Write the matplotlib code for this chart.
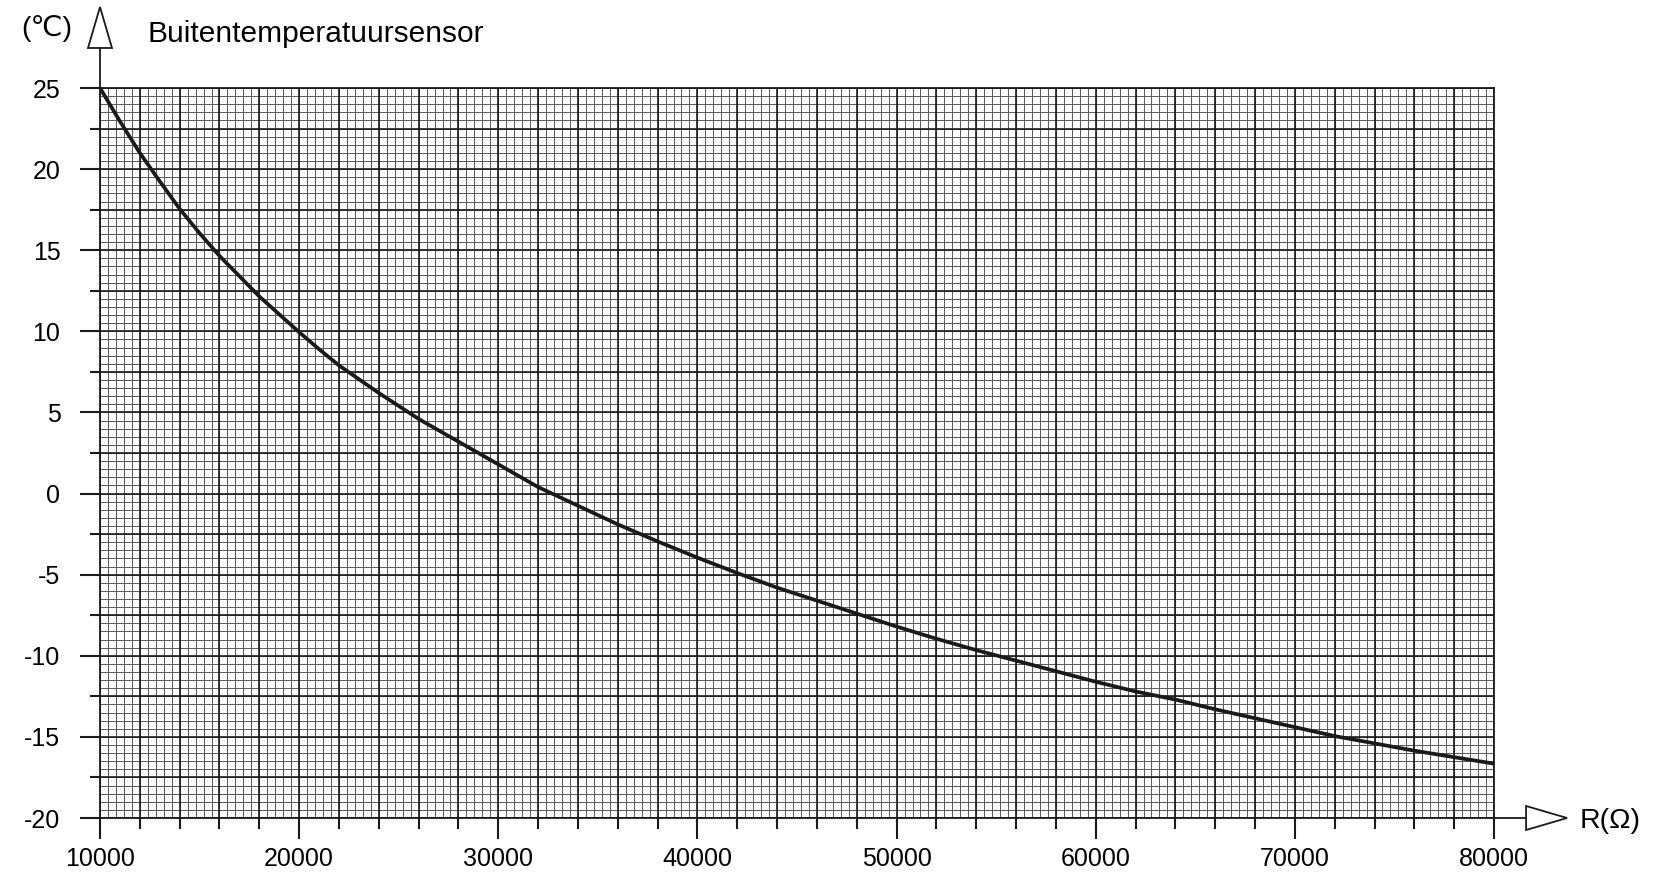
import numpy as np
import matplotlib
matplotlib.use("Agg")
import matplotlib.pyplot as plt
from matplotlib.ticker import MultipleLocator
from matplotlib.patches import Polygon

plt.rcParams['font.family'] = ['Liberation Sans', 'DejaVu Sans']
plt.rcParams['axes.unicode_minus'] = False

# resistance (ohm) vs outdoor temperature (degC)
resistance = [10000, 11000, 12000, 13000, 14000, 15000, 16000, 18000, 20000,
              21000, 22000, 24000, 26000, 28000, 30000, 32000, 34000, 36000,
              38000, 40000, 42000, 44000, 46000, 48000, 50000, 52000, 54000,
              56000, 58000, 60000, 62000, 64000, 66000, 68000, 70000, 72000,
              74000, 76000, 78000, 80000]
temperature = [25, 22.95, 21.0, 19.25, 17.55, 16.05, 14.65, 12.15, 9.95,
               8.9, 7.9, 6.2, 4.6, 3.2, 1.8, 0.4, -0.75, -1.9,
               -2.95, -3.95, -4.9, -5.8, -6.6, -7.4, -8.2, -8.95, -9.65,
               -10.3, -10.95, -11.6, -12.2, -12.7, -13.3, -13.85, -14.4, -14.95,
               -15.4, -15.85, -16.25, -16.65]

title = "Buitentemperatuursensor"
y_unit = "(℃)"
x_unit = "R(Ω)"

W, H = 1665, 872
fig = plt.figure(figsize=(W / 100, H / 100), dpi=100)
ax = fig.add_axes([100 / W, 1 - 818 / H, 1394 / W, 730 / H])

xmin, xmax = 10000, 80000
ymin, ymax = -20, 25
ax.set_xlim(xmin, xmax)
ax.set_ylim(ymin, ymax)

# graph paper grid
ax.vlines(np.arange(xmin, xmax + 1, 400), ymin, ymax, color='#5a5a5a', lw=0.7, zorder=1)
ax.hlines(np.arange(ymin, ymax + 0.01, 0.5), xmin, xmax, color='#5a5a5a', lw=0.7, zorder=1)
ax.vlines(np.arange(xmin, xmax + 1, 2000), ymin, ymax, color='#1a1a1a', lw=1.2, zorder=2)
ax.hlines(np.arange(ymin, ymax + 0.01, 2.5), xmin, xmax, color='#1a1a1a', lw=1.2, zorder=2)

ax.plot(resistance, temperature, color='#1a1a1a', lw=2.7, zorder=3,
        solid_capstyle='round', solid_joinstyle='round')

ax.xaxis.set_major_locator(MultipleLocator(10000))
ax.xaxis.set_minor_locator(MultipleLocator(2000))
ax.yaxis.set_major_locator(MultipleLocator(5))
ax.yaxis.set_minor_locator(MultipleLocator(2.5))
ax.tick_params(axis='both', which='major', width=1.5, color='#1a1a1a', labelsize=18)
ax.tick_params(axis='x', which='major', length=15, pad=6)
ax.tick_params(axis='y', which='major', length=14.5, pad=14)
ax.tick_params(axis='x', which='minor', length=8, width=1.5, color='#1a1a1a')
ax.tick_params(axis='y', which='minor', length=7.5, width=1.5, color='#1a1a1a')

for s in ax.spines.values():
    s.set_linewidth(1.3)
    s.set_color('#1a1a1a')

# axis arrows (hollow triangles)
hw = 12 / 1394
ax.plot([0, 0], [1, 1.0548], transform=ax.transAxes, color='#1a1a1a', lw=1.3, clip_on=False)
ax.add_patch(Polygon([[-hw, 1.0548], [hw, 1.0548], [0, 1.111]], closed=True,
                     facecolor='white', edgecolor='#1a1a1a', lw=1.3,
                     transform=ax.transAxes, clip_on=False))
hh = 12 / 730
ax.plot([1, 1.023], [0, 0], transform=ax.transAxes, color='#1a1a1a', lw=1.3, clip_on=False)
ax.add_patch(Polygon([[1.023, -hh], [1.023, hh], [1.0524, 0]], closed=True,
                     facecolor='white', edgecolor='#1a1a1a', lw=1.3,
                     transform=ax.transAxes, clip_on=False))

fig.text(148 / W, 1 - 34 / H, title, fontsize=21.5, va='center', ha='left')
fig.text(21 / W, 1 - 28 / H, y_unit, fontsize=20.5, va='center', ha='left')
fig.text(1580 / W, 1 - 821 / H, x_unit, fontsize=20.5, va='center', ha='left')

fig.savefig("out.png", dpi=100)
